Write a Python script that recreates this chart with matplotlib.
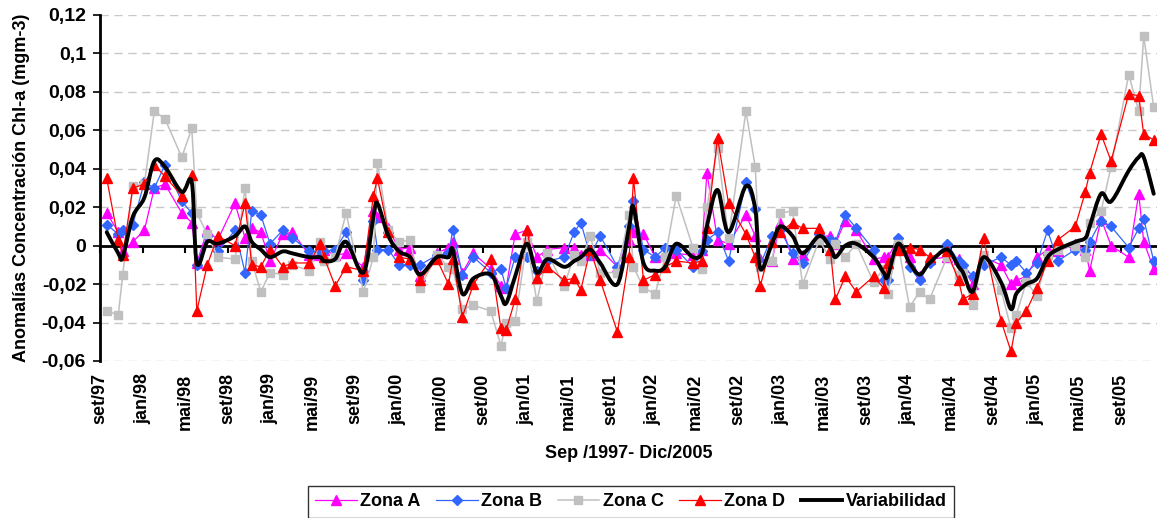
import numpy as np
import matplotlib
matplotlib.use("Agg")
import matplotlib.pyplot as plt
from matplotlib.path import Path
from matplotlib.patches import PathPatch
from matplotlib.lines import Line2D
from matplotlib.ticker import FuncFormatter

# posicion de cada dato en meses desde set/97
meses = [0.63, 1.72, 2.14, 3.08, 4.17, 5.11, 6.11, 7.69, 8.63, 9.10, 10.09, 11.07, 12.70, 13.64, 14.27, 15.12, 15.99,
         17.19, 18.09, 19.69, 20.70, 21.07, 22.11, 23.14, 24.77, 25.71, 26.09, 27.12, 28.13, 29.16, 30.10, 31.67,
         32.77, 33.18, 34.08, 35.12, 36.75, 37.70, 38.19, 39.04, 40.14, 41.08, 42.08, 43.65, 44.59, 45.22, 46.10, 47.04,
         48.66, 49.76, 50.17, 51.11, 52.21, 53.15, 54.19, 55.76, 56.60, 57.07, 58.07, 59.11, 60.74, 61.62, 62.09, 63.19, 63.97,
         65.13, 66.07, 67.64, 68.68, 69.15, 70.09, 71.12, 72.75, 73.69, 74.07, 75.04, 76.13, 77.07, 78.01, 79.65,
         80.74, 81.16, 82.06, 83.09, 84.73, 85.67, 86.17, 87.11, 88.12, 89.11, 90.06, 91.72, 92.66, 93.07, 94.14, 95.08,
         96.74, 97.68, 98.15, 99.09]

zona_a = [0.017, 0.007, -0.003, 0.002, 0.008, 0.030, 0.032, 0.017, 0.012, -0.009, 0.008, 0.003, 0.022, 0.004, 0.009, 0.007, -0.008,
          0.006, 0.007, -0.005, -0.005, -0.002, -0.005, -0.004, -0.011, 0.018, 0.015, 0.009, -0.002, -0.001, -0.016, -0.004,
          -0.001, 0.002, -0.014, -0.004, -0.012, -0.021, -0.022, 0.006, 0.008, -0.006, -0.002, -0.001, -0.001, -0.005, -0.005, -0.002,
          -0.011, 0.003, 0.007, 0.006, -0.006, -0.005, -0.004, -0.005, -0.002, 0.038, 0.003, 0.001, 0.016, 0.005, -0.007, -0.008, 0.012,
          -0.007, -0.005, 0.005, 0.005, 0.001, 0.013, 0.008, -0.007, -0.006, -0.006, 0.003, -0.006, -0.016, -0.007, -0.006,
          -0.007, -0.011, -0.020, -0.006, -0.010, -0.020, -0.018, -0.016, -0.006, -0.002, -0.003, 0.001, -0.002, -0.013, 0.014, 0.000,
          -0.006, 0.027, 0.002, -0.012]

zona_b = [0.011, 0.006, 0.008, 0.011, 0.033, 0.030, 0.042, 0.023, 0.017, -0.010, 0.005, -0.003, 0.008, -0.014, 0.018, 0.016, 0.001,
          0.008, 0.004, -0.003, -0.003, -0.003, -0.002, 0.007, -0.018, 0.013, -0.002, -0.002, -0.010, -0.010, -0.010, -0.005,
          -0.004, 0.008, -0.015, -0.006, -0.014, -0.012, -0.022, -0.006, -0.006, -0.013, -0.008, -0.006, 0.007, 0.012, -0.005, 0.005,
          -0.011, 0.010, 0.023, -0.002, -0.006, -0.001, -0.002, -0.011, -0.003, 0.003, 0.007, -0.008, 0.033, 0.019, -0.010, 0.005, 0.008,
          -0.004, -0.009, 0.006, 0.003, 0.002, 0.016, 0.009, -0.002, -0.018, -0.018, 0.004, -0.011, -0.018, -0.009, 0.001,
          -0.008, -0.010, -0.016, -0.010, -0.006, -0.010, -0.008, -0.014, -0.009, 0.008, -0.008, -0.002, -0.002, 0.002, 0.013, 0.010,
          -0.001, 0.009, 0.014, -0.008]

zona_c = [-0.034, -0.036, -0.015, 0.031, 0.032, 0.070, 0.066, 0.046, 0.061, 0.017, 0.006, -0.006, -0.007, 0.030, -0.008, -0.024, -0.014,
          -0.015, -0.010, -0.013, 0.002, -0.008, -0.006, 0.017, -0.024, -0.006, 0.043, 0.008, 0.002, 0.003, -0.022, -0.005,
          -0.011, -0.012, -0.033, -0.031, -0.034, -0.052, -0.040, -0.039, 0.002, -0.029, -0.004, -0.021, -0.005, -0.008, 0.005, -0.014,
          -0.014, 0.016, -0.011, -0.022, -0.025, -0.006, 0.026, -0.001, -0.012, 0.020, 0.051, 0.004, 0.070, 0.041, -0.011, -0.008, 0.017,
          0.018, -0.020, 0.003, -0.007, 0.001, -0.006, 0.001, -0.019, -0.012, -0.025, 0.001, -0.032, -0.024, -0.028, -0.006,
          -0.015, -0.014, -0.031, -0.005, -0.023, -0.043, -0.036, -0.019, -0.026, -0.005, -0.002, 0.000, -0.006, 0.012, 0.018, 0.041,
          0.089, 0.070, 0.109, 0.072]

zona_d = [0.035, 0.003, -0.005, 0.030, 0.032, 0.042, 0.036, 0.026, 0.037, -0.034, -0.010, 0.005, 0.000, 0.022, -0.010, -0.011, -0.002,
          -0.011, -0.009, -0.009, 0.001, -0.006, -0.021, -0.011, -0.013, 0.026, 0.035, 0.007, -0.006, -0.007, -0.018, -0.007,
          -0.020, -0.007, -0.037, -0.020, -0.007, -0.043, -0.044, -0.028, 0.008, -0.017, -0.011, -0.018, -0.017, -0.023, -0.002, -0.018,
          -0.045, -0.006, 0.035, -0.018, -0.015, -0.011, -0.008, -0.009, -0.008, 0.009, 0.056, 0.022, 0.006, -0.006, -0.021, 0.002, 0.007,
          0.012, 0.009, 0.009, -0.002, -0.028, -0.016, -0.024, -0.016, -0.022, -0.009, -0.002, -0.001, -0.002, -0.006, -0.003,
          -0.018, -0.028, -0.025, 0.004, -0.039, -0.055, -0.040, -0.034, -0.022, -0.008, 0.003, 0.010, 0.028, 0.038, 0.058, 0.044,
          0.079, 0.078, 0.058, 0.055]

variabilidad = [0.007, -0.004, -0.006, 0.015, 0.025, 0.044, 0.041, 0.028, 0.033, -0.009, 0.002, 0.001, 0.005, 0.010, 0.002, -0.002, -0.006,
                -0.003, -0.004, -0.006, -0.006, -0.008, -0.007, 0.002, -0.014, 0.015, 0.022, 0.005, -0.003, -0.006, -0.015, -0.006,
                -0.006, -0.002, -0.025, -0.017, -0.015, -0.026, -0.030, -0.016, 0.001, -0.014, -0.007, -0.011, -0.008, -0.006, -0.002, -0.009,
                -0.020, 0.010, 0.020, -0.009, -0.013, -0.011, 0.001, -0.006, -0.004, 0.010, 0.029, 0.007, 0.031, 0.019, -0.012, 0.001, 0.010,
                0.005, -0.004, 0.005, -0.001, -0.006, 0.000, 0.001, -0.006, -0.014, -0.016, 0.001, -0.009, -0.015, -0.009, -0.002,
                -0.011, -0.014, -0.024, -0.006, -0.019, -0.033, -0.025, -0.020, -0.017, -0.006, -0.002, 0.002, 0.004, 0.010, 0.027, 0.023,
                0.039, 0.046, 0.046, 0.027]

tick_meses = list(range(0, 100, 4))
tick_labels = ['set/97', 'jan/98', 'mai/98', 'set/98', 'jan/99', 'mai/99', 'set/99', 'jan/00', 'mai/00',
               'set/00', 'jan/01', 'mai/01', 'set/01', 'jan/02', 'mai/02', 'set/02', 'jan/03', 'mai/03',
               'set/03', 'jan/04', 'mai/04', 'set/04', 'jan/05', 'mai/05', 'set/05']


def smooth_path(x, y):
    # linea suavizada tipo Excel (Catmull-Rom como curvas de Bezier)
    x = np.asarray(x, dtype=float)
    y = np.asarray(y, dtype=float)
    n = len(x)
    verts = [(x[0], y[0])]
    codes = [Path.MOVETO]
    for i in range(n - 1):
        xp, yp = (x[i - 1], y[i - 1]) if i > 0 else (x[i], y[i])
        xn, yn = (x[i + 2], y[i + 2]) if i < n - 2 else (x[i + 1], y[i + 1])
        c1 = (x[i] + (x[i + 1] - xp) / 6, y[i] + (y[i + 1] - yp) / 6)
        c2 = (x[i + 1] - (xn - x[i]) / 6, y[i + 1] - (yn - y[i]) / 6)
        verts += [c1, c2, (x[i + 1], y[i + 1])]
        codes += [Path.CURVE4] * 3
    return Path(verts, codes)


plt.rcParams['font.family'] = ['Liberation Sans', 'DejaVu Sans']
plt.rcParams['font.weight'] = 'bold'
plt.rcParams['axes.labelweight'] = 'bold'

fig = plt.figure(figsize=(11.57, 5.18), dpi=100)
ax = fig.add_axes([100 / 1157, 1 - 361 / 518, 1 - 100 / 1157, 346 / 518])

ax.axhline(0, color='black', lw=2, zorder=1.5)

ax.plot(meses, zona_a, color='#FF00FF', lw=0.9, marker='^', ms=7, label='Zona A')
ax.plot(meses, zona_b, color='#3366FF', lw=0.9, marker='D', ms=5, label='Zona B')
ax.plot(meses, zona_c, color='#C0C0C0', lw=1.1, marker='s', ms=5.5, label='Zona C')
ax.plot(meses, zona_d, color='#FF0000', lw=0.9, marker='^', ms=7, label='Zona D')
ax.add_patch(PathPatch(smooth_path(meses, variabilidad), fill=False, edgecolor='black',
                       lw=2.8, capstyle='round', joinstyle='round', zorder=3))

ax.set_xlim(0, 99.4)
ax.set_ylim(-0.06, 0.12)

yt = np.round(np.linspace(-0.06, 0.12, 10), 2)
ax.set_yticks(yt)
ax.yaxis.set_major_formatter(FuncFormatter(lambda v, p: f'{round(v, 2):g}'.replace('.', ',')))
ax.tick_params(axis='y', direction='out', length=5, width=1.2, pad=5, labelsize=14)
ax.grid(axis='y', color='#C8C8C8', linestyle=(0, (6, 4)), lw=1)
ax.set_axisbelow(True)

ax.set_xticks(tick_meses)
ax.set_xticklabels(tick_labels, rotation=90, ha='center', va='top', fontsize=13)
ax.tick_params(axis='x', length=0, pad=9)

for s in ['top', 'right', 'bottom']:
    ax.spines[s].set_visible(False)
ax.spines['left'].set_linewidth(2)

# marcas del eje de categorias que cruza en cero
eje0 = ax.secondary_xaxis(0, transform=ax.transData)
eje0.set_xticks(tick_meses)
eje0.set_xticklabels([])
eje0.tick_params(direction='out', length=5, width=1.5)
eje0.spines['bottom'].set_visible(False)

ax.set_ylabel('Anomalías Concentración Chl-a (mgm-3)', fontsize=13)
ax.yaxis.set_label_coords(-70 / 1057, 0.5)
ax.set_xlabel('Sep /1997- Dic/2005', fontsize=13)
ax.xaxis.set_label_coords(0.5, -84 / 346)

handles = [Line2D([], [], color='#FF00FF', lw=0.9, marker='^', ms=7),
           Line2D([], [], color='#3366FF', lw=0.9, marker='D', ms=5),
           Line2D([], [], color='#C0C0C0', lw=1.1, marker='s', ms=5.5),
           Line2D([], [], color='#FF0000', lw=0.9, marker='^', ms=7),
           Line2D([], [], color='black', lw=2.8)]
leg = fig.legend(handles, ['Zona A', 'Zona B', 'Zona C', 'Zona D', 'Variabilidad'],
                 loc='center', bbox_to_anchor=(631 / 1157, 1 - 502 / 518), ncol=5,
                 fontsize=13, handlelength=2.3, handletextpad=0.2, columnspacing=0.85,
                 numpoints=1, frameon=True, fancybox=False, borderpad=0.4)
leg.get_frame().set_edgecolor('black')
leg.get_frame().set_linewidth(1)

fig.savefig('out.png', dpi=100)
